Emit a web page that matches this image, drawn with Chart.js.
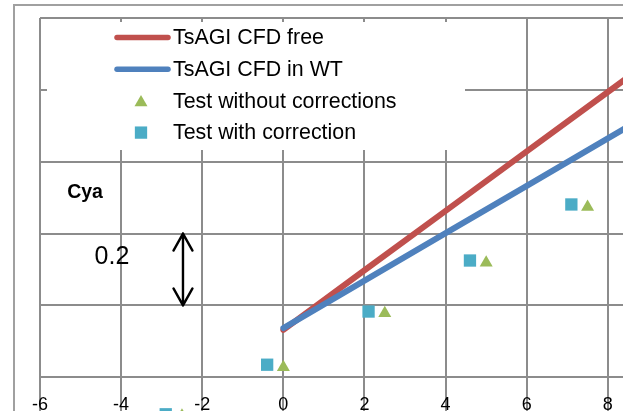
<!DOCTYPE html>
<html>
<head>
<meta charset="utf-8">
<script src="https://cdn.jsdelivr.net/npm/chart.js@4"></script>
<style>
  html, body { margin: 0; padding: 0; background: #fff; overflow: hidden; }
  #wrap { position: relative; width: 623px; height: 411px; overflow: hidden; background: #fff; }
  #frame { position: absolute; left: 13px; top: 4px; width: 800px; height: 600px;
           border-left: 2px solid #a0a0a0; border-top: 2px solid #a0a0a0; }
  #cyaChart { position: absolute; left: 0; top: 0; }
</style>
</head>
<body>
<div id="wrap">
  <div id="frame"></div>
  <canvas id="cyaChart" width="716" height="540"></canvas>
</div>
<script>
// CFD lift curves (angle of attack, deg -> Cya)
const alphaCfd = [0, 2, 4, 6, 8, 10];
const cyaCfdFree = [0.132, 0.298, 0.463, 0.629, 0.794, 0.960];
const cyaCfdWT = [0.137, 0.269, 0.401, 0.533, 0.665, 0.797];

// wind tunnel test points
const alphaTestRaw = [-2.5, 0, 2.5, 5, 7.5];
const cyaTestRaw = [-0.107, 0.028, 0.178, 0.319, 0.474];
const alphaTestCorr = [-2.9, -0.4, 2.1, 4.6, 7.1];
const cyaTestCorr = [-0.103, 0.035, 0.183, 0.325, 0.481];

const seriesNames = ["TsAGI CFD free", "TsAGI CFD in WT", "Test without corrections", "Test with correction"];
const seriesColors = ["#C0504D", "#4F81BD", "#9BBB59", "#4BACC6"];

const toPoints = (xs, ys) => xs.map((x, i) => ({ x: x, y: ys[i] }));

const gridColor = "#8c8c8c";
const fontFamily = '"Liberation Sans", Arial, sans-serif';

function markerPath(ctx, style, x, y, r) {
  ctx.beginPath();
  if (style === "triangle") {
    ctx.moveTo(x, y - r);
    ctx.lineTo(x + r * Math.sqrt(3) / 2, y + r / 2);
    ctx.lineTo(x - r * Math.sqrt(3) / 2, y + r / 2);
    ctx.closePath();
  } else {
    const s = r * Math.SQRT1_2;
    ctx.rect(x - s, y - s, 2 * s, 2 * s);
  }
  ctx.fill();
}

// white legend box drawn over the grid, under the series
const legendBox = {
  id: "legendBox",
  beforeDatasetsDraw(chart) {
    const ctx = chart.ctx;
    ctx.save();
    ctx.fillStyle = "#fff";
    ctx.fillRect(47, 22, 418, 128);
    ctx.font = "21.4px " + fontFamily;
    ctx.textBaseline = "middle";
    chart.data.datasets.forEach((ds, i) => {
      const y = 37.5 + i * 31.7;
      if (ds.showLine) {
        ctx.strokeStyle = ds.borderColor;
        ctx.lineWidth = 5.5;
        ctx.lineCap = "round";
        ctx.beginPath();
        ctx.moveTo(117, y);
        ctx.lineTo(168, y);
        ctx.stroke();
      } else {
        ctx.fillStyle = ds.backgroundColor;
        markerPath(ctx, ds.pointStyle, 141, y + (ds.pointStyle === "triangle" ? 1.5 : 0), ds.pointRadius);
      }
      ctx.fillStyle = "#000";
      ctx.fillText(ds.label, 173, y + 1);
    });
    ctx.restore();
  }
};

// "Cya" caption and the 0.2 scale arrow
const notes = {
  id: "notes",
  afterDatasetsDraw(chart) {
    const ctx = chart.ctx;
    const x = chart.scales.x, y = chart.scales.y;
    ctx.save();
    ctx.fillStyle = "#000";
    ctx.textAlign = "center";
    ctx.textBaseline = "middle";
    ctx.font = "bold 19.5px " + fontFamily;
    ctx.fillText("Cya", x.getPixelForValue(-4.89), y.getPixelForValue(0.515));
    ctx.font = "25px " + fontFamily;
    ctx.fillText("0.2", x.getPixelForValue(-4.225), y.getPixelForValue(0.334));

    const ax = x.getPixelForValue(-2.475);
    const y0 = y.getPixelForValue(0.4), y1 = y.getPixelForValue(0.2);
    ctx.strokeStyle = "#000";
    ctx.lineWidth = 2.4;
    ctx.lineCap = "round";
    ctx.lineJoin = "round";
    ctx.beginPath();
    ctx.moveTo(ax, y0);
    ctx.lineTo(ax, y1);
    ctx.moveTo(ax - 9.5, y0 + 17);
    ctx.lineTo(ax, y0);
    ctx.lineTo(ax + 9.5, y0 + 17);
    ctx.moveTo(ax - 9.5, y1 - 17);
    ctx.lineTo(ax, y1);
    ctx.lineTo(ax + 9.5, y1 - 17);
    ctx.stroke();
    ctx.restore();
  }
};

new Chart(document.getElementById("cyaChart"), {
  type: "scatter",
  data: {
    datasets: [
      {
        label: seriesNames[0],
        data: toPoints(alphaCfd, cyaCfdFree),
        showLine: true,
        borderColor: seriesColors[0],
        borderWidth: 6,
        borderCapStyle: "round",
        pointRadius: 0,
        order: 2
      },
      {
        label: seriesNames[1],
        data: toPoints(alphaCfd, cyaCfdWT),
        showLine: true,
        borderColor: seriesColors[1],
        borderWidth: 6,
        borderCapStyle: "round",
        pointRadius: 0,
        order: 1
      },
      {
        label: seriesNames[2],
        data: toPoints(alphaTestRaw, cyaTestRaw),
        showLine: false,
        pointStyle: "triangle",
        pointRadius: 7.5,
        borderWidth: 0,
        backgroundColor: seriesColors[2],
        borderColor: seriesColors[2],
        order: 0
      },
      {
        label: seriesNames[3],
        data: toPoints(alphaTestCorr, cyaTestCorr),
        showLine: false,
        pointStyle: "rect",
        pointRadius: 8.7,
        borderWidth: 0,
        backgroundColor: seriesColors[3],
        borderColor: seriesColors[3],
        order: 0
      }
    ]
  },
  options: {
    responsive: false,
    animation: false,
    layout: { padding: { left: 40, top: 18, right: 11, bottom: 19 } },
    plugins: { legend: { display: false }, tooltip: { enabled: false } },
    scales: {
      x: {
        type: "linear",
        min: -6,
        max: 10,
        position: { y: 0 },
        ticks: { stepSize: 2, color: "#000", padding: 17, font: { size: 18, family: fontFamily } },
        grid: { color: gridColor, lineWidth: 2, drawTicks: false },
        border: { color: gridColor, width: 2 }
      },
      y: {
        type: "linear",
        min: -0.4,
        max: 1.0,
        ticks: { stepSize: 0.2, display: false },
        grid: { color: gridColor, lineWidth: 2, drawTicks: false },
        border: { display: false },
        afterFit(scale) { scale.width = 0; }
      }
    }
  },
  plugins: [legendBox, notes]
});
</script>
</body>
</html>
